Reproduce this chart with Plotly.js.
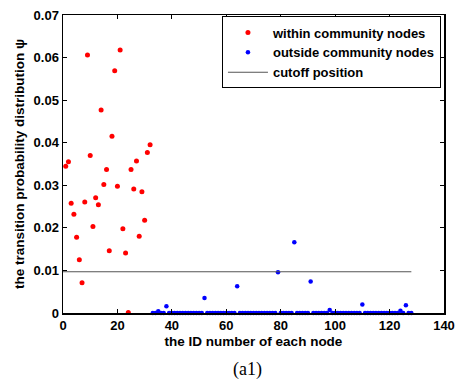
<!DOCTYPE html>
<html>
<head>
<meta charset="utf-8">
<script src="https://cdn.plot.ly/plotly-3.0.1.min.js"></script>
<style>html,body{margin:0;padding:0;background:#fff;}#chart{width:457px;height:383px;}</style>
</head>
<body>
<div id="chart"></div>
<script>
// within community nodes
const redIds = [1,2,3,4,5,6,7,8,9,10,11,12,13,14,15,16,17,18,19,20,21,22,23,24,25,26,27,28,29,30,31,32];
const redVals = [0.0345,0.0355,0.0258,0.0232,0.0178,0.0125,0.0071,0.0261,0.0606,0.0370,0.0203,0.0271,0.0254,0.0477,0.0302,0.0337,0.0146,0.0415,0.0569,0.0298,0.0618,0.0198,0.0141,0.0001,0.0337,0.0291,0.0357,0.0180,0.0285,0.0218,0.0377,0.0395];
// outside community nodes
const blueIds = [33,34,35,36,37,38,39,40,41,42,43,44,45,46,47,48,49,50,51,52,53,54,55,56,57,58,59,60,61,62,63,64,65,66,67,68,69,70,71,72,73,74,75,76,77,78,79,80,81,82,83,84,85,86,87,88,89,90,91,92,93,94,95,96,97,98,99,100,101,102,103,104,105,106,107,108,109,110,111,112,113,114,115,116,117,118,119,120,121,122,123,124,125,126,127,128];
const blueVals = [0,0,0.0004,0,0,0.0016,0,0,0,0,0,0,0,0,0,0,0,0,0,0.0035,0,0,0,0,0,0,0,0,0,0,0,0.0063,0,0,0,0,0,0,0,0,0,0,0,0,0,0,0.0096,0,0,0,0,0,0.0166,0,0,0,0,0,0.0074,0,0,0,0,0,0,0.0007,0,0,0,0,0,0,0,0,0,0,0,0.0020,0,0,0,0,0,0,0,0,0,0,0,0,0,0.0005,0,0.0018,0,0];
// cutoff line
const cutoffX = [0,128];
const cutoffY = [0.0097,0.0097];
const xTicks = [0,20,40,60,80,100,120,140];
const yTicks = [0,0.01,0.02,0.03,0.04,0.05,0.06,0.07];
const yTickText = ['0','0.01','0.02','0.03','0.04','0.05','0.06','0.07'];

const F = '"Liberation Sans", Arial, sans-serif';
const b = s => '<b>' + s + '</b>';
const traces = [
  {x: redIds, y: redVals, type:'scatter', mode:'markers', name:b('within community nodes'),
   marker:{color:'#ff0000', size:5}, cliponaxis:false},
  {x: blueIds, y: blueVals, type:'scatter', mode:'markers', name:b('outside community nodes'),
   marker:{color:'#0000ff', size:4.5}, cliponaxis:false},
  {x: cutoffX, y: cutoffY, type:'scatter', mode:'lines', name:b('cutoff position'),
   line:{color:'#555555', width:1.1}}
];
const axisCommon = {
  showgrid:false, zeroline:false, showline:true, linecolor:'#000', linewidth:1.5,
  mirror:'allticks', ticks:'inside', ticklen:4, tickcolor:'#000', tickwidth:1,
  tickfont:{family:F, size:13, color:'#000'}
};
const layout = {
  width:457, height:383,
  margin:{l:63, r:13, t:15, b:70},
  paper_bgcolor:'#fff', plot_bgcolor:'#fff',
  showlegend:true,
  legend:{x:0.992, xanchor:'right', y:0.995, yanchor:'top', bgcolor:'#fff',
    bordercolor:'#000', borderwidth:1, font:{family:F, size:13, color:'#000'},
    tracegroupgap:0, itemwidth:40},
  xaxis: Object.assign({}, axisCommon, {range:[0,140], tickvals:xTicks, ticktext:xTicks.map(v=>b(v)),
    title:{text:b('the ID number of each node'), font:{family:F, size:13.5, color:'#000'}, standoff:4}}),
  yaxis: Object.assign({}, axisCommon, {range:[0,0.07], tickvals:yTicks, ticktext:yTickText.map(b),
    title:{text:b('the transition probability distribution ψ'), font:{family:F, size:13.5, color:'#000'}, standoff:6}}),
  annotations:[{text:'(a1)', xref:'paper', yref:'paper', x:0.483, y:-0.188, yanchor:'middle', showarrow:false,
    font:{family:'"Liberation Serif", "Times New Roman", serif', size:18, color:'#000'}}]
};
Plotly.newPlot('chart', traces, layout, {displayModeBar:false, staticPlot:true});
</script>
</body>
</html>
